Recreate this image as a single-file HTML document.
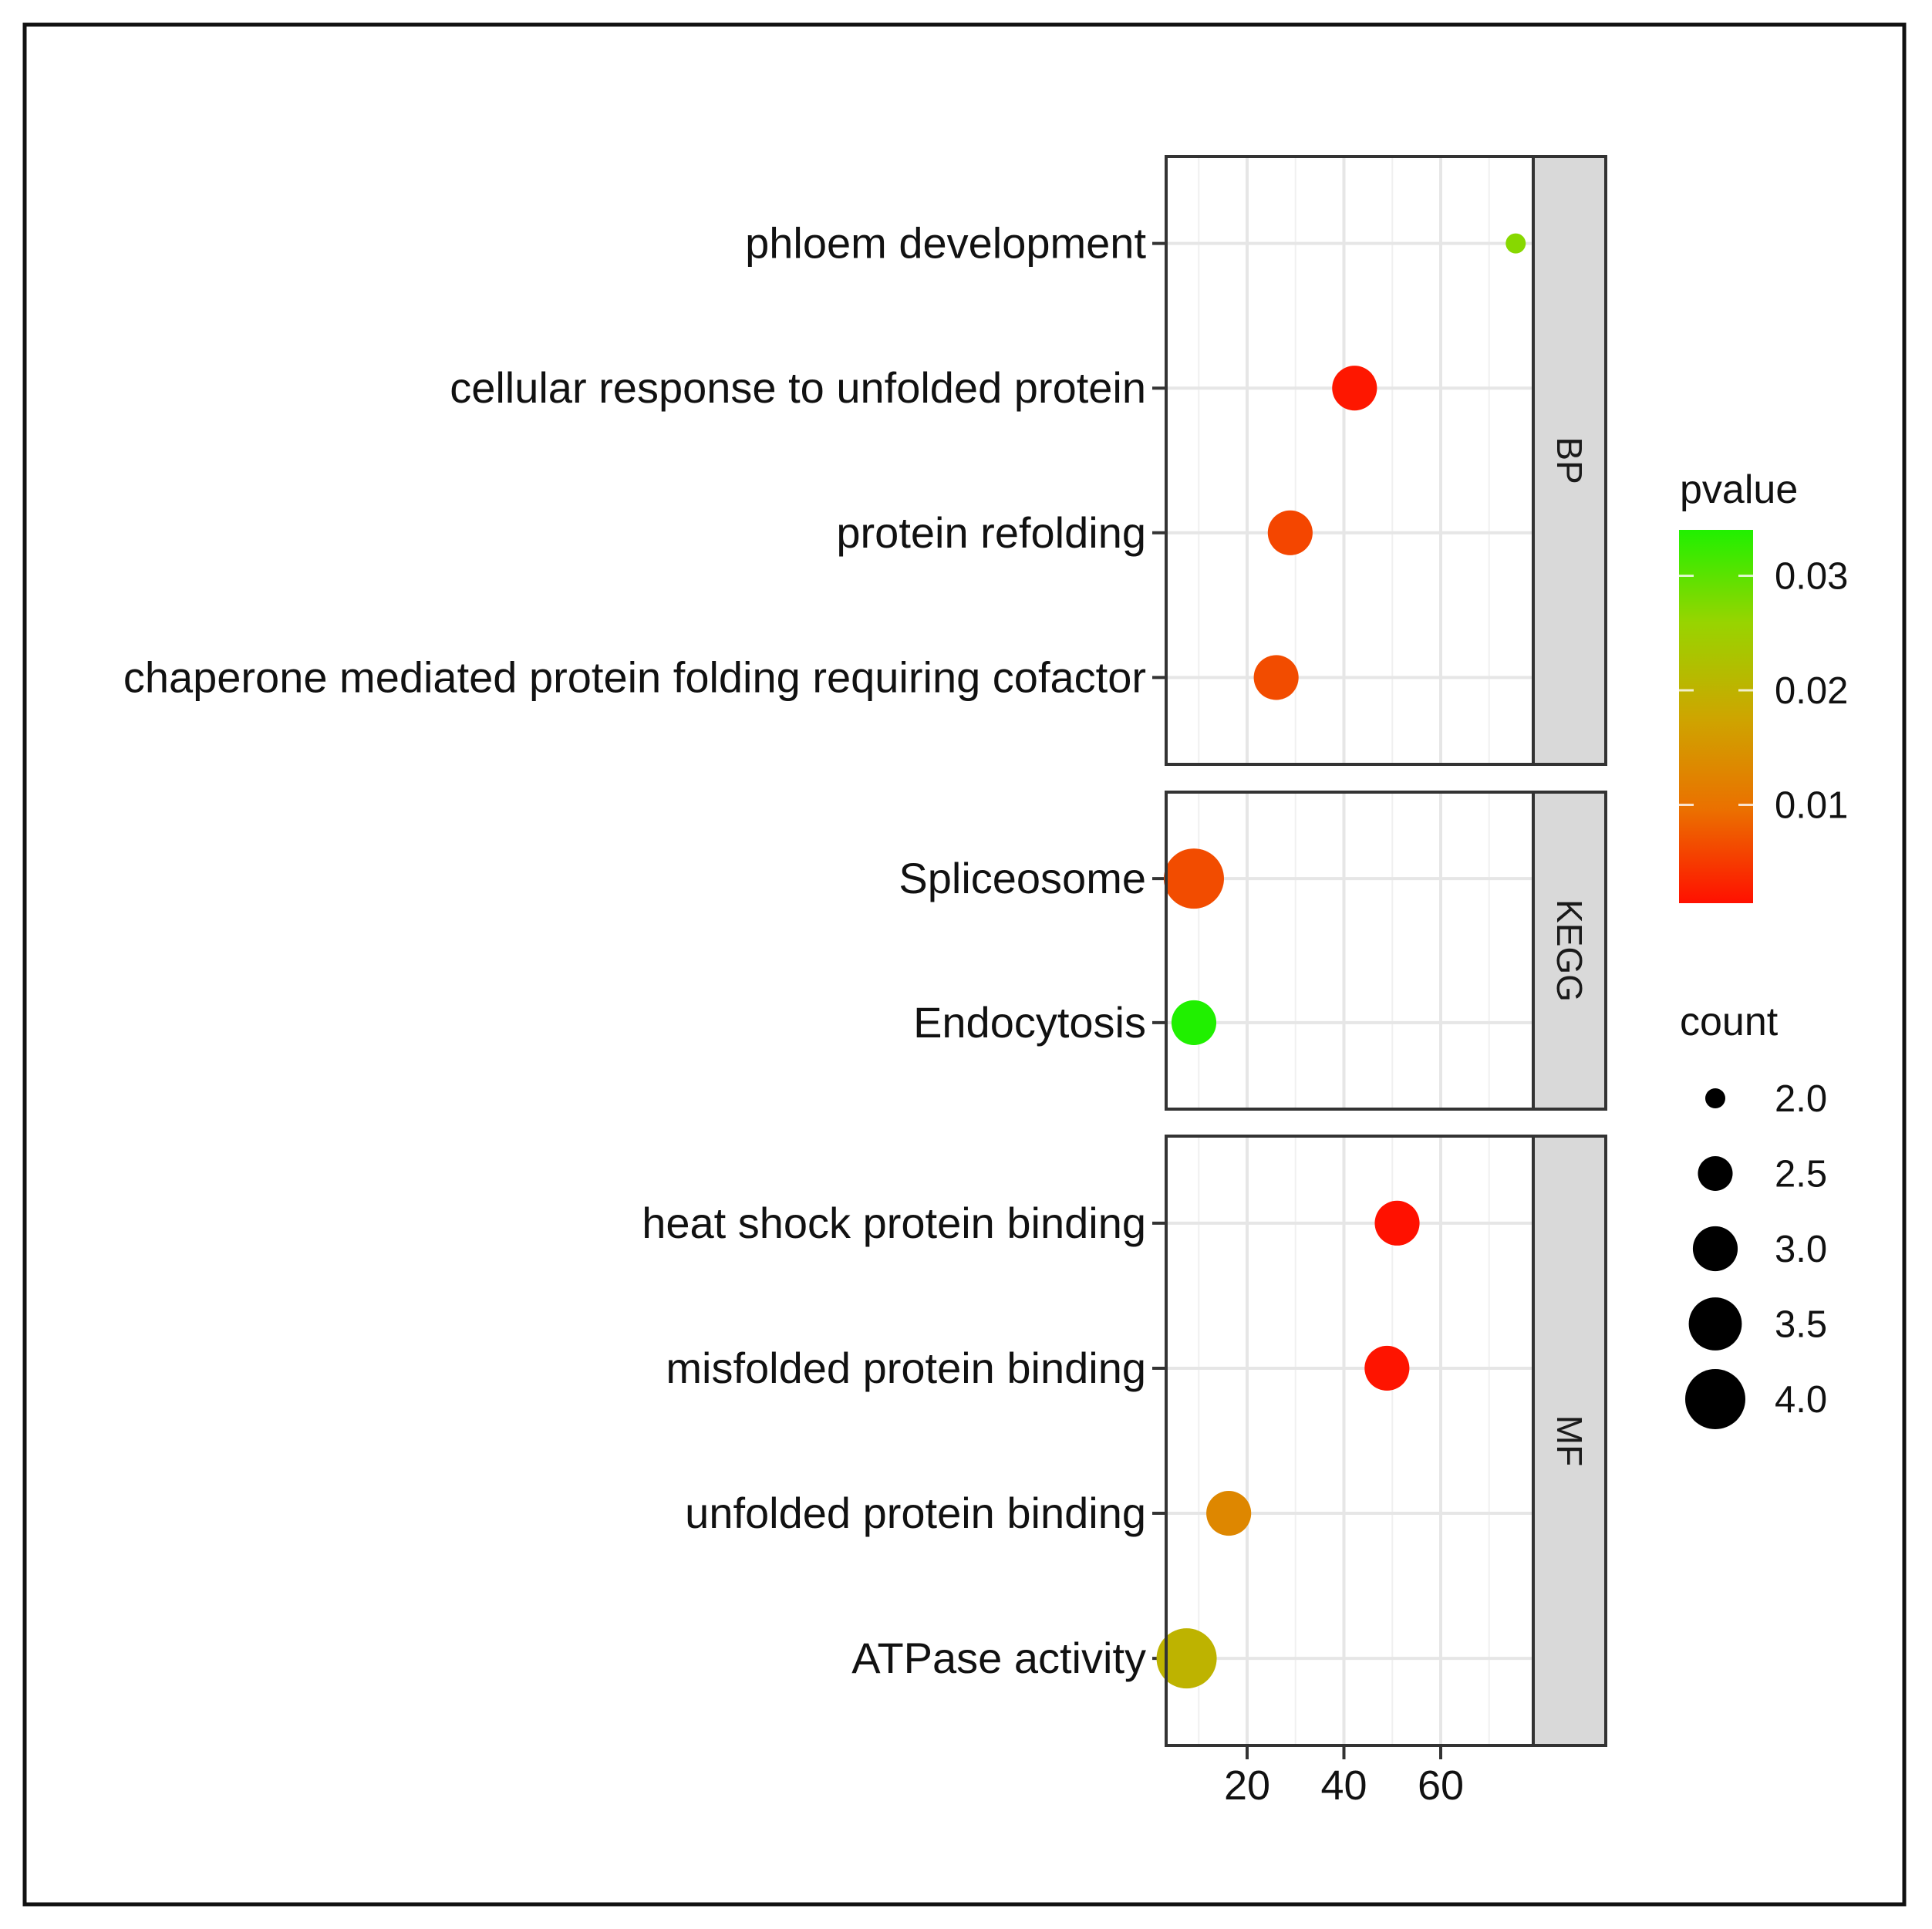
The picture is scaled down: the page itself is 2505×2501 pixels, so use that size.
<!DOCTYPE html>
<html><head><meta charset="utf-8"><style>
html,body{margin:0;padding:0;background:#fff;}
svg{display:block;font-family:"Liberation Sans",Arial,sans-serif;}
</style></head><body>
<svg id="chart" width="2505" height="2501" viewBox="0 0 2505 2501" xmlns="http://www.w3.org/2000/svg">
<defs>
<linearGradient id="pgrad" x1="0" y1="1" x2="0" y2="0">
<stop offset="0" stop-color="#ff1000"/>
<stop offset="0.25" stop-color="#eb7000"/>
<stop offset="0.5" stop-color="#cda600"/>
<stop offset="0.75" stop-color="#98d400"/>
<stop offset="1" stop-color="#20f000"/>
</linearGradient>
</defs>
<rect x="32" y="32" width="2437" height="2437" fill="#fff" stroke="#111" stroke-width="5"/>
<g id="panels"></g>
<g id="legend"></g>
</svg>
<script>
const terms = ["phloem development","cellular response to unfolded protein","protein refolding","chaperone mediated protein folding requiring cofactor","Spliceosome","Endocytosis","heat shock protein binding","misfolded protein binding","unfolded protein binding","ATPase activity"];
const groups = ["BP","BP","BP","BP","KEGG","KEGG","MF","MF","MF","MF"];
const xValues = [75.5,42.2,28.9,26.0,9.0,9.0,51.0,48.9,16.2,7.5];
const counts = [2,3,3,3,4,3,3,3,3,4];
const pvalues = [0.027,0.002,0.006,0.0065,0.0065,0.034,0.0015,0.0017,0.013,0.02];
const xTicks = [20,40,60];
const pTicks = [0.01,0.02,0.03];
const sizeTicks = [2.0,2.5,3.0,3.5,4.0];
const facetNames = ["BP","KEGG","MF"];

const NS="http://www.w3.org/2000/svg";
function mk(tag, attrs, parent){const e=document.createElementNS(NS,tag);for(const k in attrs)e.setAttribute(k,attrs[k]);parent.appendChild(e);return e;}
const panelsG=document.getElementById('panels'), legG=document.getElementById('legend');
const PL=1512, PR=1988, SR=2082;
const facetBox={BP:[203,991],KEGG:[1027,1438],MF:[1473,2263]};
const X0=1491.5, XS=6.275;
function xs(v){return X0+v*XS;}
function rs(c){const r2=169+(c-2)/2*(1521-169);return Math.sqrt(r2);}
const stops=[[0,[255,16,0]],[0.25,[235,112,0]],[0.5,[205,166,0]],[0.75,[152,212,0]],[1,[32,240,0]]];
const PMIN=0.0014,PMAX=0.034;
function col(p){let t=(p-PMIN)/(PMAX-PMIN);t=Math.max(0,Math.min(1,t));
 for(let i=1;i<stops.length;i++){if(t<=stops[i][0]){const a=stops[i-1],b=stops[i];const f=(t-a[0])/(b[0]-a[0]);
 const c=a[1].map((v,j)=>Math.round(v+(b[1][j]-v)*f));return `rgb(${c[0]},${c[1]},${c[2]})`;}}return 'rgb(32,240,0)';}

facetNames.forEach(fn=>{
 const [top,bot]=facetBox[fn];
 const idx=[];groups.forEach((g,i)=>{if(g===fn)idx.push(i);});
 const n=idx.length, step=(bot-top)/(n-1+1.2);
 const g=mk('g',{},panelsG);
 
 
 mk('rect',{x:PL,y:top,width:PR-PL,height:bot-top,fill:'#fff'},g);
 [10,30,50,70].forEach(v=>mk('line',{x1:xs(v),x2:xs(v),y1:top,y2:bot,stroke:'#f0f0f0','stroke-width':2},g));
 xTicks.forEach(v=>{const l=mk('line',{x1:xs(v),x2:xs(v),y1:top,y2:bot,stroke:'#e6e6e6','stroke-width':4},g);
  });
 idx.forEach((i,k)=>{const y=top+(k+0.6)*step;
  mk('line',{x1:PL,x2:PR,y1:y,y2:y,stroke:'#e6e6e6','stroke-width':4},g);
  mk('line',{x1:PL-18,x2:PL,y1:y,y2:y,stroke:'#333','stroke-width':4},g);
  const t=mk('text',{x:PL-26,y:y+19,'text-anchor':'end','font-size':56,fill:'#111'},g);
  t.textContent=terms[i];
  
  
 });
 idx.forEach((i,k)=>{const y=top+(k+0.6)*step;
  const c=mk('circle',{cx:xs(xValues[i]),cy:y,r:rs(counts[i]),fill:col(pvalues[i])},g);
  
  
 });
 mk('rect',{x:PL,y:top,width:PR-PL,height:bot-top,fill:'none',stroke:'#333','stroke-width':4},g);
 const s=mk('rect',{x:PR,y:top,width:SR-PR,height:bot-top,fill:'#d9d9d9',stroke:'#333','stroke-width':4},g);
 
 
 const cy=(top+bot)/2, cx=(PR+SR)/2;
 const st=mk('text',{x:cx,y:cy,'text-anchor':'middle','dominant-baseline':'central','font-size':46,fill:'#1a1a1a',transform:`rotate(90 ${cx} ${cy})`},g);
 st.textContent=fn;
 
 
});
xTicks.forEach(v=>{
 mk('line',{x1:xs(v),x2:xs(v),y1:2263,y2:2281,stroke:'#333','stroke-width':4},panelsG);
 const t=mk('text',{x:xs(v),y:2333,'text-anchor':'middle','font-size':54,fill:'#111'},panelsG);
 t.textContent=v;
 
 
});
const CB={x:2177,w:96,top:687,bot:1171};
function py(p){return 1192-p*14850;}
const lt=mk('text',{x:2178,y:652,'font-size':52,fill:'#111'},legG);
lt.textContent='pvalue';


const cb=mk('rect',{x:CB.x,y:CB.top,width:CB.w,height:CB.bot-CB.top,fill:'url(#pgrad)'},legG);


pTicks.forEach(p=>{const y=py(p);
 mk('line',{x1:CB.x,x2:CB.x+19,y1:y,y2:y,stroke:'#fff','stroke-width':3,opacity:0.8},legG);
 mk('line',{x1:CB.x+CB.w-19,x2:CB.x+CB.w,y1:y,y2:y,stroke:'#fff','stroke-width':3,opacity:0.8},legG);
 const t=mk('text',{x:2301,y:y+17,'font-size':49,fill:'#111'},legG);
 t.textContent=p.toFixed(2);
 
 
});
const ct=mk('text',{x:2178,y:1342,'font-size':52,fill:'#111'},legG);
ct.textContent='count';


sizeTicks.forEach((s,k)=>{const y=1424+k*97.5;
 const c=mk('circle',{cx:2224,cy:y,r:rs(s),fill:'#000'},legG);
 
 
 const t=mk('text',{x:2301,y:y+17,'font-size':49,fill:'#111'},legG);
 t.textContent=s.toFixed(1);
 
 
});
</script>
</body></html>
